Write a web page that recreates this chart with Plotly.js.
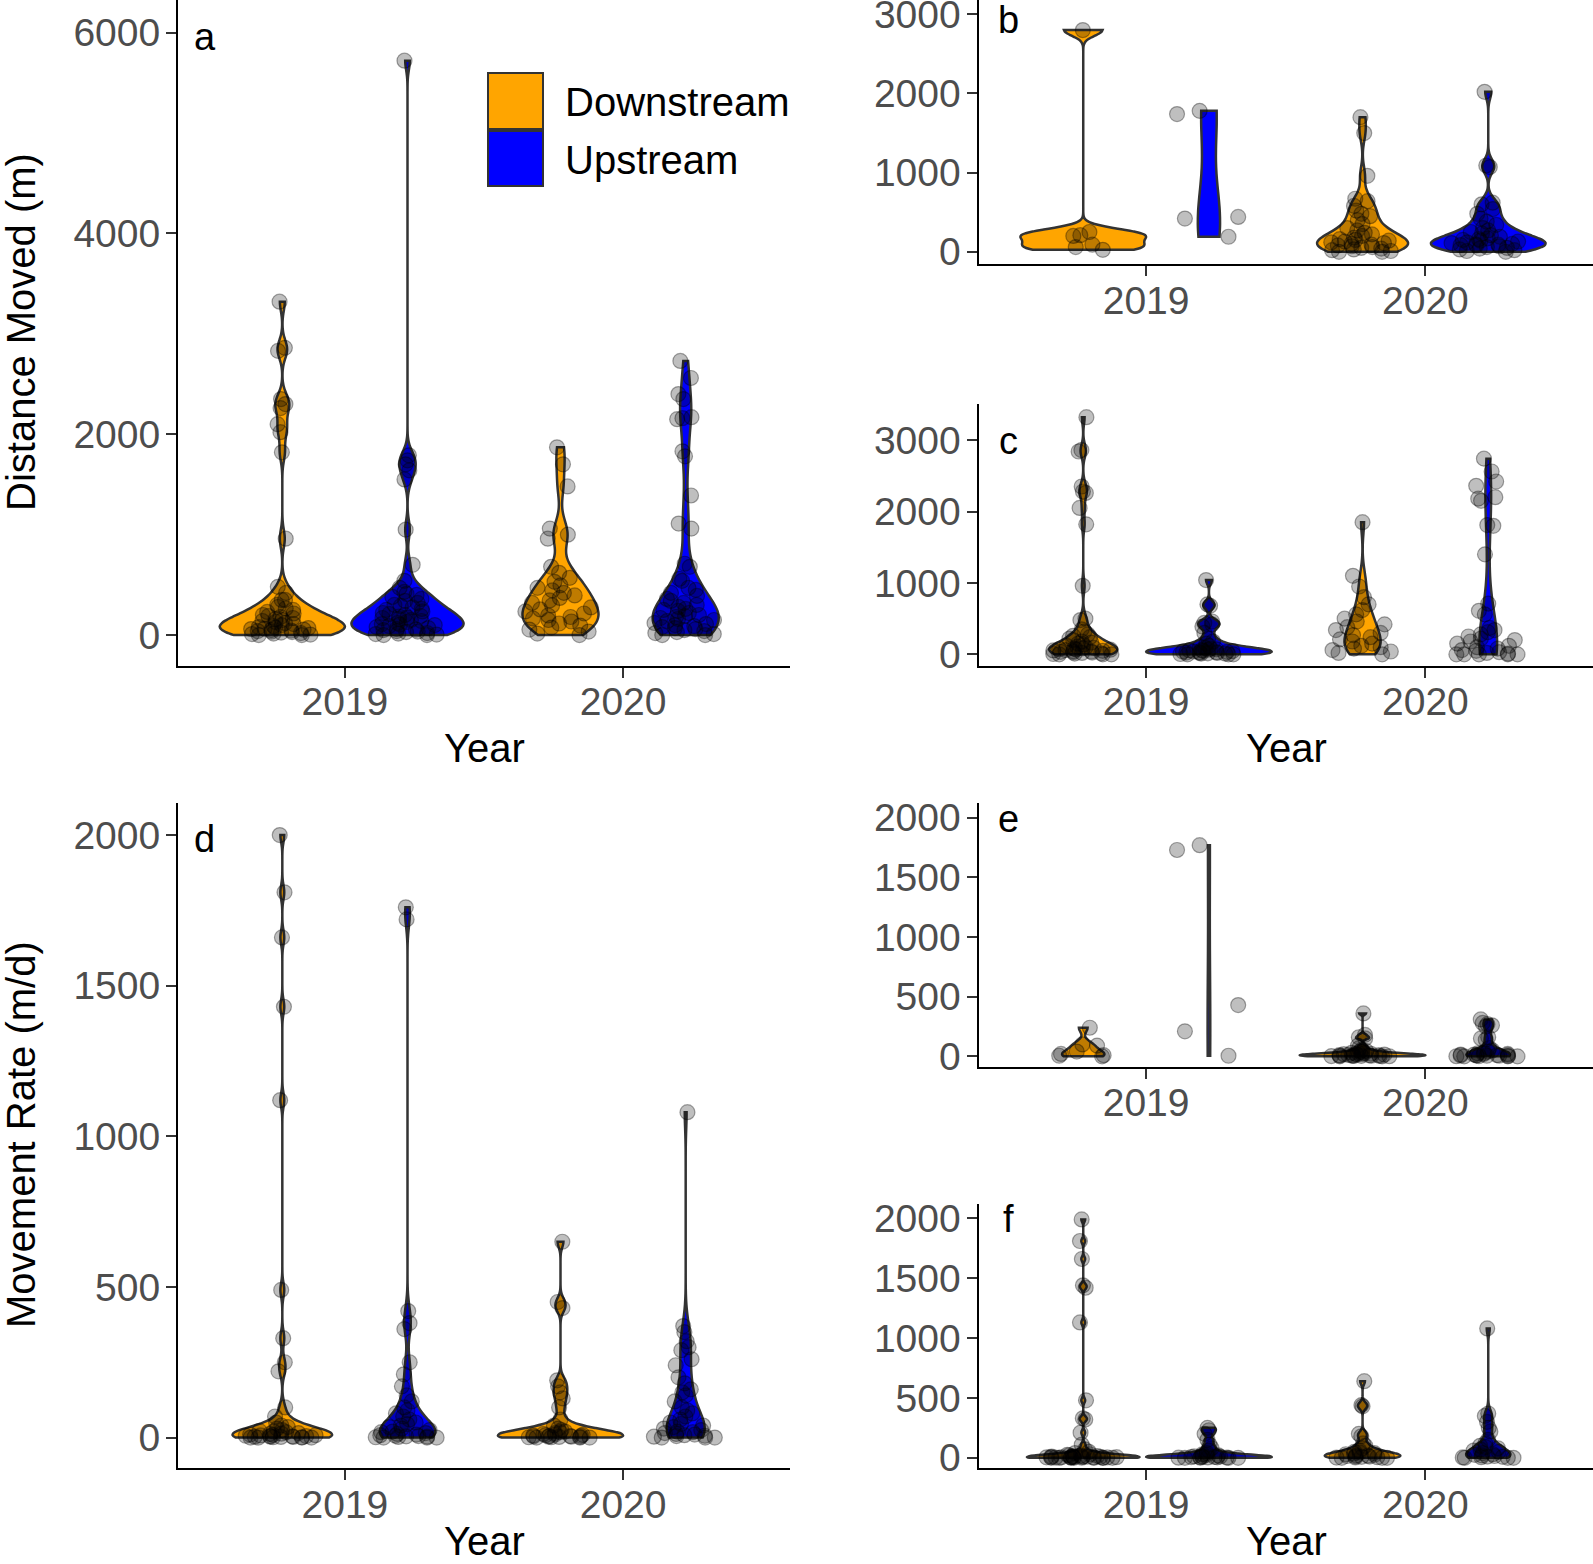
<!DOCTYPE html>
<html>
<head>
<meta charset="utf-8">
<script src="https://cdn.plot.ly/plotly-3.0.1.min.js"></script>
<style>html,body{margin:0;padding:0;background:#fff;}#chart{width:1593px;height:1564px;}</style>
</head>
<body>
<div id="chart"></div>
<script>
// ---------------- DATA ----------------
const years = ['2019', '2020'];
const directions = ['Downstream', 'Upstream'];
const panelLetters = ['a', 'b', 'c', 'd', 'e', 'f'];
const yTitleTop = 'Distance Moved (m)';
const yTitleBottom = 'Movement Rate (m/d)';
const xTitle = 'Year';

// Panel a: Distance moved (m)
const a2019Down = [3320, 2860, 2830, 2350, 2300, 2260, 2100, 2020, 1820, 960, 480, 420, 350, 350, 300, 280, 265, 250, 230, 215, 200, 190, 180, 170, 160, 150, 140, 130, 120, 110, 100, 90, 80, 75, 70, 65, 60, 55, 50, 45, 40, 35, 30, 25, 20, 15, 10, 5, 0, 0];
const a2019Up = [5720, 1790, 1740, 1700, 1640, 1550, 1050, 700, 540, 470, 430, 410, 400, 380, 360, 340, 320, 300, 290, 275, 260, 250, 235, 220, 210, 200, 190, 185, 175, 170, 160, 150, 140, 130, 120, 110, 105, 100, 90, 80, 70, 60, 55, 50, 40, 35, 30, 20, 15, 10, 5, 0, 0];
const a2020Down = [1870, 1700, 1480, 1060, 1000, 960, 680, 620, 570, 530, 495, 470, 445, 420, 395, 370, 345, 320, 295, 275, 255, 235, 215, 195, 180, 165, 150, 135, 115, 95, 75, 55, 35, 15, 0];
const a2020Up = [2730, 2560, 2400, 2350, 2170, 2160, 2150, 1830, 1780, 1390, 1110, 1060, 710, 680, 560, 540, 470, 450, 420, 390, 360, 340, 320, 300, 280, 260, 250, 240, 220, 200, 190, 180, 170, 160, 150, 140, 120, 110, 100, 90, 80, 70, 60, 50, 40, 30, 20, 10, 0, 0];
// Panel b
const b2019Down = [2800, 250, 210, 200, 90, 60, 25];
const b2019Up = [1780, 1740, 440, 420, 190];
const b2020Down = [1700, 1500, 960, 670, 640, 580, 520, 480, 450, 400, 350, 300, 270, 240, 220, 200, 180, 160, 150, 140, 130, 120, 110, 100, 90, 80, 70, 60, 50, 40, 30, 20, 10, 0, 0];
const b2020Up = [2020, 1090, 1070, 620, 600, 540, 480, 420, 380, 340, 300, 270, 250, 230, 210, 190, 170, 160, 150, 140, 130, 120, 110, 100, 95, 90, 85, 80, 70, 60, 50, 40, 30, 20, 10, 0];
// Panel c
const c2019Down = [3320, 2860, 2840, 2350, 2280, 2260, 2050, 1820, 960, 500, 480, 350, 320, 280, 260, 240, 220, 200, 180, 165, 150, 135, 120, 110, 100, 90, 85, 80, 75, 70, 65, 60, 55, 50, 45, 40, 35, 30, 25, 20, 15, 10, 5, 0, 0, 0];
const c2019Up = [1040, 700, 680, 460, 440, 420, 390, 300, 220, 180, 150, 120, 100, 90, 80, 70, 65, 60, 55, 50, 45, 40, 40, 35, 30, 30, 25, 20, 20, 15, 10, 10, 5, 0, 0, 0];
const c2020Down = [1850, 1100, 950, 800, 700, 620, 560, 500, 460, 420, 380, 340, 300, 270, 240, 210, 180, 150, 120, 100, 80, 60, 40, 20, 0];
const c2020Up = [2740, 2560, 2420, 2360, 2200, 2180, 2150, 1810, 1800, 1400, 710, 610, 560, 370, 340, 310, 280, 250, 220, 200, 180, 150, 120, 100, 80, 60, 50, 30, 20, 10, 0, 0, 0, 0, 0];
// Panel d: Movement rate (m/d)
const d2019Down = [2000, 1810, 1660, 1430, 1120, 490, 330, 250, 220, 100, 70, 50, 40, 35, 30, 25, 22, 20, 18, 15, 13, 12, 10, 9, 8, 7, 6, 5, 5, 4, 3, 3, 2, 2, 1, 1, 0, 0, 0, 0];
const d2019Up = [1760, 1720, 420, 380, 360, 250, 210, 170, 140, 120, 100, 90, 80, 70, 60, 50, 45, 40, 35, 30, 25, 20, 18, 15, 12, 10, 8, 6, 5, 4, 3, 2, 1, 0, 0, 0];
const d2020Down = [650, 450, 430, 190, 170, 150, 130, 100, 60, 40, 30, 25, 20, 18, 15, 12, 10, 9, 8, 7, 6, 5, 5, 4, 3, 3, 2, 2, 1, 1, 0, 0, 0];
const d2020Up = [1080, 370, 350, 320, 300, 290, 260, 240, 200, 180, 160, 150, 140, 120, 100, 90, 80, 70, 60, 50, 45, 40, 35, 30, 25, 20, 18, 15, 12, 10, 8, 6, 5, 3, 0, 0, 0];
// Panel e
const e2019Down = [240, 100, 90, 40, 20, 10, 5, 0];
const e2019Up = [1770, 1730, 430, 210, 5];
const e2020Down = [360, 180, 160, 150, 90, 70, 55, 45, 40, 35, 30, 28, 25, 22, 20, 20, 18, 15, 15, 12, 10, 10, 8, 8, 6, 5, 5, 4, 3, 3, 2, 1, 0, 0];
const e2020Up = [310, 280, 270, 260, 250, 160, 150, 140, 70, 50, 40, 30, 25, 20, 20, 15, 15, 12, 10, 10, 8, 6, 5, 5, 3, 2, 1, 0, 0, 0];
// Panel f
const f2019Down = [1990, 1810, 1660, 1440, 1420, 1130, 480, 330, 320, 210, 110, 70, 50, 40, 30, 25, 20, 18, 15, 14, 12, 10, 10, 9, 8, 7, 6, 6, 5, 5, 4, 4, 3, 3, 2, 2, 1, 1, 1, 0, 0, 0, 0, 0, 0];
const f2019Up = [250, 230, 200, 150, 110, 80, 60, 40, 30, 25, 20, 15, 12, 10, 8, 7, 6, 5, 4, 3, 2, 1, 1, 0, 0, 0];
const f2020Down = [640, 440, 430, 200, 180, 120, 100, 80, 60, 50, 45, 40, 35, 30, 25, 20, 18, 15, 12, 10, 8, 5, 3, 2, 0, 0, 0];
const f2020Up = [1080, 370, 350, 300, 250, 220, 150, 120, 100, 90, 80, 70, 60, 50, 40, 30, 25, 20, 15, 10, 8, 5, 3, 0, 0, 0];

// ---------------- LAYOUT / STYLE ----------------
const W = 1593, H = 1564;
const FONT = 'Liberation Sans, Arial, Helvetica, sans-serif';
const dirColors = {Downstream: '#FFA500', Upstream: '#0000FF'};
const px = x => x / W;
const py = y => 1 - y / H;

const panels = [
  {key: 'a', data: [[a2019Down, a2019Up], [a2020Down, a2020Up]], xd: [178, 790], yd: [0, 665.5], range: [-303, 6324], dtick: 2000},
  {key: 'b', data: [[b2019Down, b2019Up], [b2020Down, b2020Up]], xd: [978.5, 1593], yd: [0, 264], range: [-154, 3180], dtick: 1000},
  {key: 'c', data: [[c2019Down, c2019Up], [c2020Down, c2020Up]], xd: [978.5, 1593], yd: [403.5, 665.5], range: [-156, 3512], dtick: 1000},
  {key: 'd', data: [[d2019Down, d2019Up], [d2020Down, d2020Up]], xd: [178, 790], yd: [802.5, 1468], range: [-101, 2108], dtick: 500},
  {key: 'e', data: [[e2019Down, e2019Up], [e2020Down, e2020Up]], xd: [978.5, 1593], yd: [802.5, 1066.5], range: [-85, 2128], dtick: 500},
  {key: 'f', data: [[f2019Down, f2019Up], [f2020Down, f2020Up]], xd: [978.5, 1593], yd: [1204, 1468], range: [-85, 2119], dtick: 500}
];

// R's bw.nrd0 bandwidth (ggplot2 default) so the KDE shape matches
function quantile7(sorted, p) {
  const h = (sorted.length - 1) * p;
  const lo = Math.floor(h), hi = Math.ceil(h);
  return sorted[lo] + (h - lo) * (sorted[hi] - sorted[lo]);
}
function bwNrd0(v) {
  const n = v.length;
  const mean = v.reduce((s, t) => s + t, 0) / n;
  const sd = Math.sqrt(v.reduce((s, t) => s + (t - mean) * (t - mean), 0) / (n - 1));
  const s = v.slice().sort((p, q) => p - q);
  const iqr = quantile7(s, 0.75) - quantile7(s, 0.25);
  let lo = Math.min(sd, iqr / 1.34);
  if (!lo) lo = sd || Math.abs(v[0]) || 1;
  return 0.9 * lo * Math.pow(n, -0.2);
}

const traces = [];
const layout = {
  width: W, height: H,
  margin: {l: 0, r: 0, t: 0, b: 0, pad: 0},
  paper_bgcolor: '#fff', plot_bgcolor: '#fff',
  showlegend: false,
  violinmode: 'group', violingap: 0.1, violingroupgap: 0,
  font: {family: FONT, color: '#000'},
  annotations: [], shapes: []
};

panels.forEach((p, i) => {
  const n = i === 0 ? '' : String(i + 1);
  const xa = 'x' + n, ya = 'y' + n;
  years.forEach((yr, yi) => {
    directions.forEach((dir, di) => {
      const vals = p.data[yi][di];
      traces.push({
        type: 'violin',
        xaxis: xa, yaxis: ya,
        x: vals.map(() => yr),
        y: vals,
        name: dir,
        offsetgroup: dir,
        alignmentgroup: 'g' + p.key,
        scalegroup: 'sg' + p.key,
        scalemode: 'width',
        spanmode: 'hard',
        bandwidth: bwNrd0(vals),
        fillcolor: dirColors[dir],
        line: {color: '#333333', width: 2.5},
        points: 'all',
        pointpos: 0,
        jitter: 0.6,
        marker: {color: 'rgba(0,0,0,0.25)', size: 15, line: {color: 'rgba(0,0,0,0.35)', width: 1.2}},
        box: {visible: false},
        meanline: {visible: false},
        hoverinfo: 'skip',
        showlegend: false
      });
    });
  });
  const axBase = {
    showgrid: false, zeroline: false, showline: true,
    linecolor: '#000', linewidth: 2,
    ticks: 'outside', ticklen: 10, tickwidth: 2, tickcolor: '#333',
    tickfont: {family: FONT, size: 39, color: '#4D4D4D'},
    ticklabeloverflow: 'allow',
    fixedrange: true
  };
  layout['xaxis' + n] = Object.assign({}, axBase, {
    domain: [px(p.xd[0]), px(p.xd[1])],
    anchor: ya,
    type: 'category', categoryorder: 'array', categoryarray: years,
    range: [-0.6, 1.6],
    ticklabelstandoff: -9
  });
  layout['yaxis' + n] = Object.assign({}, axBase, {
    domain: [py(p.yd[1]), py(p.yd[0])],
    anchor: xa,
    range: p.range, dtick: p.dtick, tick0: 0,
    ticklabelstandoff: -2
  });
});

// panel letters
const letterPos = [[205, 37], [1008, 20], [1008, 441], [204, 839], [1008, 819], [1008, 1219]];
panelLetters.forEach((L, i) => {
  layout.annotations.push({
    text: L, xref: 'paper', yref: 'paper', x: px(letterPos[i][0]), y: py(letterPos[i][1]),
    xanchor: 'center', yanchor: 'middle', showarrow: false,
    font: {family: FONT, size: 38, color: '#000'}
  });
});

// axis titles
const titleFont = {family: FONT, size: 40, color: '#000'};
layout.annotations.push({text: yTitleTop, textangle: -90, xref: 'paper', yref: 'paper', x: px(21), y: py(332), xanchor: 'center', yanchor: 'middle', showarrow: false, font: titleFont});
layout.annotations.push({text: yTitleBottom, textangle: -90, xref: 'paper', yref: 'paper', x: px(21), y: py(1135), xanchor: 'center', yanchor: 'middle', showarrow: false, font: titleFont});
[[484, 748], [1286, 748], [484, 1541], [1286, 1541]].forEach(c => {
  layout.annotations.push({text: xTitle, xref: 'paper', yref: 'paper', x: px(c[0]), y: py(c[1]), xanchor: 'center', yanchor: 'middle', showarrow: false, font: titleFont});
});

// legend (drawn inside panel a)
const keyBoxes = [[73, 129], [131, 186]];
directions.forEach((dir, i) => {
  layout.shapes.push({
    type: 'rect', xref: 'paper', yref: 'paper',
    x0: px(488), x1: px(543), y0: py(keyBoxes[i][1]), y1: py(keyBoxes[i][0]),
    fillcolor: dirColors[dir], line: {color: '#333333', width: 2}
  });
  layout.annotations.push({
    text: dir, xref: 'paper', yref: 'paper', x: px(563), y: py((keyBoxes[i][0] + keyBoxes[i][1]) / 2 + 1),
    xanchor: 'left', yanchor: 'middle', showarrow: false,
    font: {family: FONT, size: 40, color: '#000'}
  });
});

Plotly.newPlot('chart', traces, layout, {displayModeBar: false, staticPlot: true});
</script>
</body>
</html>
